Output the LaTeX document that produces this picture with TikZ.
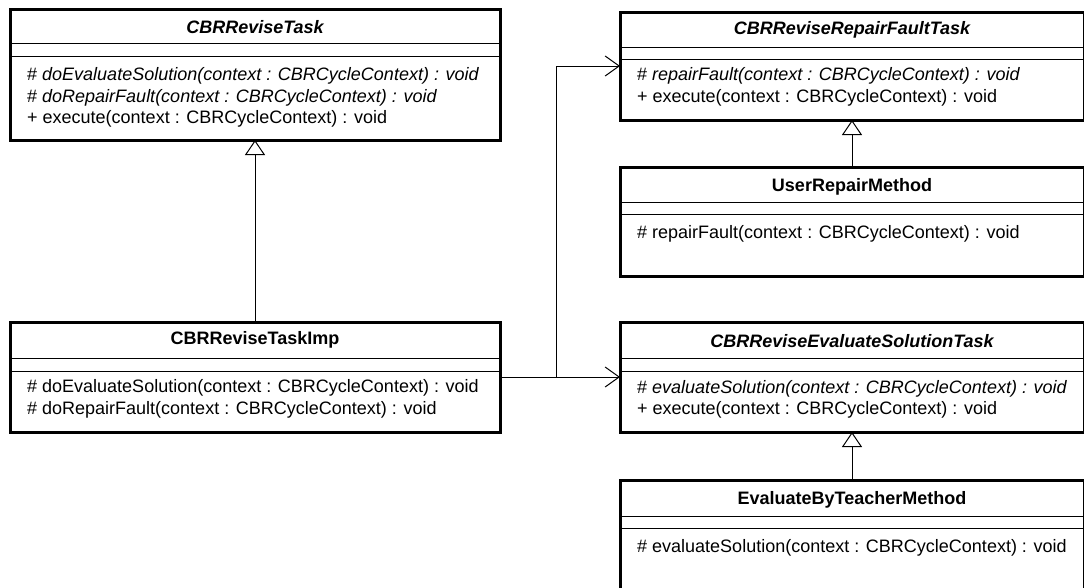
\documentclass[tikz,border=0pt]{standalone}
\usepackage{fontspec}
\setmainfont{Liberation Sans}
\usetikzlibrary{arrows.meta}
\tikzset{
  cls/.style={draw, line width=3pt, inner sep=0pt, outer sep=0pt, anchor=north west, fill=white},
  sep/.style={line width=1pt},
  ttl/.style={inner sep=0pt, anchor=center, font=\fontsize{18}{21}\selectfont\bfseries},
  mtx/.style={inner sep=0pt, anchor=west, font=\fontsize{18}{21}\selectfont},
  gen/.style={line width=1pt, -{Triangle[open, length=15pt, width=20pt, line width=1pt]}},
  dep/.style={line width=1pt, -{Straight Barb[length=14pt, width=20pt, line width=1pt]}, shorten >=0pt},
}
\begin{document}
\begin{tikzpicture}[x=1pt, y=-1pt]
\useasboundingbox (0,0) rectangle (1084,587);
% left column
\node[cls, minimum width=490pt, minimum height=131pt] (crt) at (10,9) {};
\draw[sep] (crt.west |- 0,43) -- (crt.east |- 0,43) (crt.west |- 0,56) -- (crt.east |- 0,56);
\node[ttl] (crtT) at (255,27) {\itshape CBRReviseTask};
\node[mtx] (crtM1) at (27,76) {\# \textit{doEvaluateSolution(context : CBRCycleContext) : void}};
\node[mtx] (crtM2) at (27,98) {\# \textit{doRepairFault(context : CBRCycleContext) : void}};
\node[mtx] (crtM3) at (27,119) {+ execute(context : CBRCycleContext) : void};

\node[cls, minimum width=490pt, minimum height=110pt] (imp) at (10,322) {};
\draw[sep] (imp.west |- 0,358) -- (imp.east |- 0,358) (imp.west |- 0,371) -- (imp.east |- 0,371);
\node[ttl] (impT) at (255,340) {CBRReviseTaskImp};
\node[mtx] (impM1) at (27,388) {\# doEvaluateSolution(context : CBRCycleContext) : void};
\node[mtx] (impM2) at (27,410) {\# doRepairFault(context : CBRCycleContext) : void};

% right column
\node[cls, minimum width=464pt, minimum height=108pt] (rft) at (620,12) {};
\draw[sep] (rft.west |- 0,47) -- (rft.east |- 0,47) (rft.west |- 0,59) -- (rft.east |- 0,59);
\node[ttl] (rftT) at (852,30) {\itshape CBRReviseRepairFaultTask};
\node[mtx] (rftM1) at (637,76) {\# \textit{repairFault(context : CBRCycleContext) : void}};
\node[mtx] (rftM2) at (637,98) {+ execute(context : CBRCycleContext) : void};

\node[cls, minimum width=464pt, minimum height=109pt] (urm) at (620,167) {};
\draw[sep] (urm.west |- 0,202) -- (urm.east |- 0,202) (urm.west |- 0,214) -- (urm.east |- 0,214);
\node[ttl] (urmT) at (852,187) {UserRepairMethod};
\node[mtx] (urmM1) at (637,234) {\# repairFault(context : CBRCycleContext) : void};

\node[cls, minimum width=464pt, minimum height=110pt] (evs) at (620,322) {};
\draw[sep] (evs.west |- 0,358) -- (evs.east |- 0,358) (evs.west |- 0,371) -- (evs.east |- 0,371);
\node[ttl] (evsT) at (852,341) {\itshape CBRReviseEvaluateSolutionTask};
\node[mtx] (evsM1) at (637,389) {\# \textit{evaluateSolution(context : CBRCycleContext) : void}};
\node[mtx] (evsM2) at (637,410) {+ execute(context : CBRCycleContext) : void};

\node[cls, minimum width=464pt, minimum height=125pt] (ebt) at (620,480) {};
\draw[sep] (ebt.west |- 0,516) -- (ebt.east |- 0,516) (ebt.west |- 0,528) -- (ebt.east |- 0,528);
\node[ttl] (ebtT) at (852,500) {EvaluateByTeacherMethod};
\node[mtx] (ebtM1) at (637,548) {\# evaluateSolution(context : CBRCycleContext) : void};

% connectors
\coordinate (j) at (556,377);
\draw[gen] (imp.north) -- (crt.south);
\draw[gen] (urm.north) -- (rft.south);
\draw[gen] (ebt.north) -- (evs.south);
\draw[dep] (imp.east) -- (evs.west);
\draw[dep] (j) |- (rft.west);
\end{tikzpicture}
\end{document}
